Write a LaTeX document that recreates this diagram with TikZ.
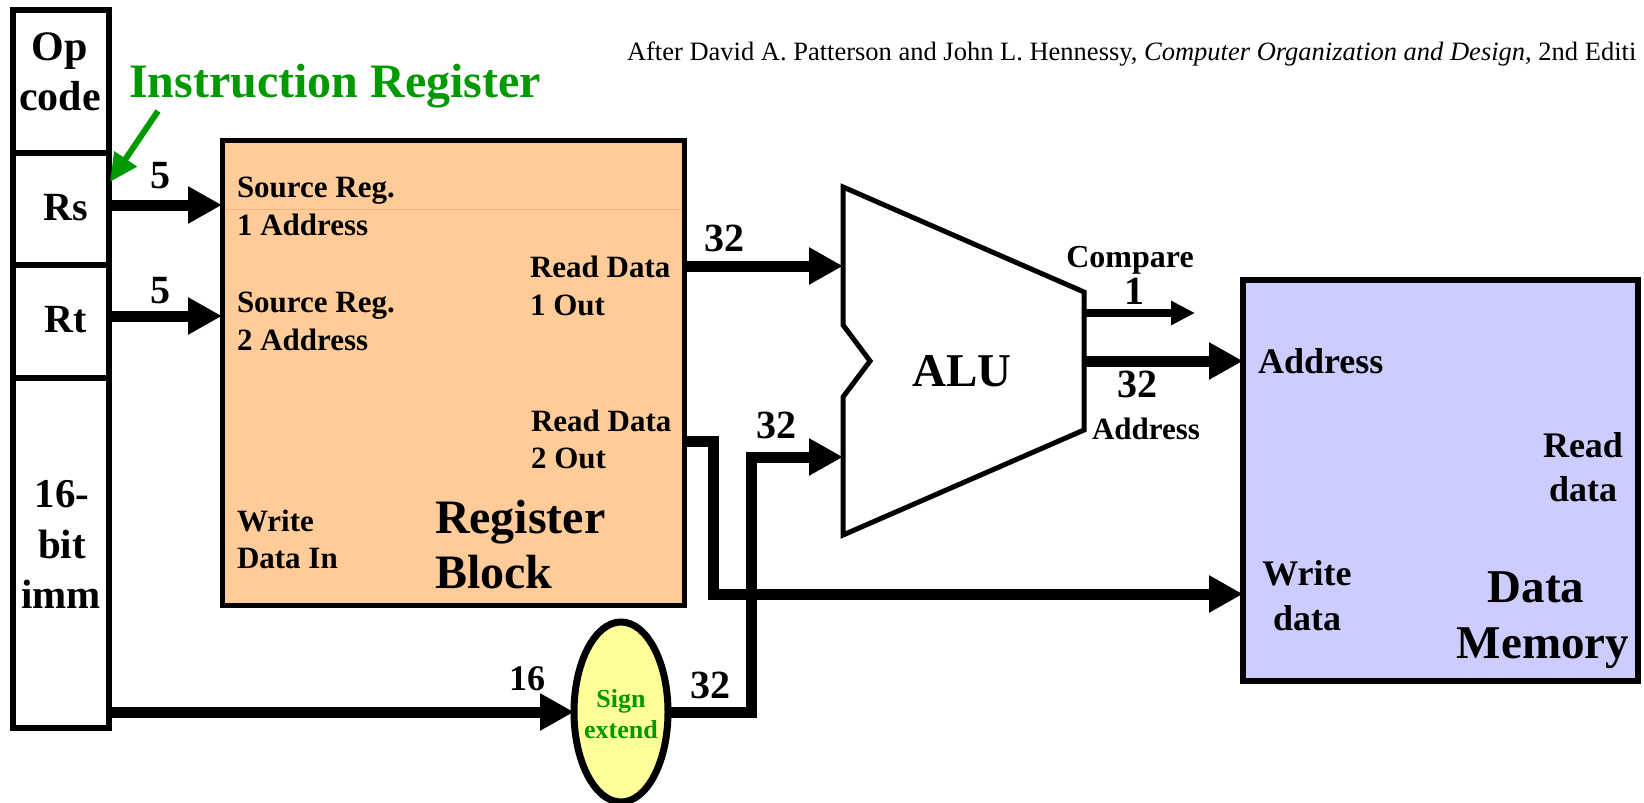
\documentclass[tikz,border=0pt]{standalone}
\usepackage{fontspec}
\setmainfont{Liberation Serif}
\usetikzlibrary{arrows.meta,shapes.geometric}
\definecolor{regfill}{RGB}{255,204,153}
\definecolor{memfill}{RGB}{204,204,255}
\definecolor{sefill}{RGB}{255,255,153}
\definecolor{irgreen}{RGB}{0,153,0}
\definecolor{faintline}{RGB}{242,178,120}
\newcommand{\bfsz}[1]{\fontsize{#1}{#1}\selectfont\bfseries}
\begin{document}
\begin{tikzpicture}[x=1pt,y=-1pt,line join=miter,
  txt/.style={inner sep=0pt,outer sep=0pt,anchor=base},
  txtl/.style={inner sep=0pt,outer sep=0pt,anchor=base west},
  cell/.style={draw,line width=6pt,minimum width=96pt,inner sep=0pt,outer sep=0pt},
  bus/.style={line width=11pt,-{Triangle[length=34pt,width=35pt]}},
  thinbus/.style={line width=8pt,-{Triangle[length=24pt,width=23pt]}},
  greenarrow/.style={irgreen,line width=6pt,-{Triangle[length=28pt,width=26pt]}}
]
\useasboundingbox (0,0) rectangle (1644,803);
\clip (0,0) rectangle (1644,803);

% Instruction register cells
\node[cell,minimum height=143pt] (op) at (61,81) {};
\node[cell,minimum height=112pt] (rs) at (61,208.5) {};
\node[cell,minimum height=113pt] (rt) at (61,321) {};
\node[cell,minimum height=350.5pt] (imm) at (61,552.75) {};

\node[txt,font=\bfsz{42}] (tOp) at (60,60) {Op};
\node[txt,font=\bfsz{42}] (tCode) at (60,110) {code};
\node[txt,font=\bfsz{40}] (tRs) at (66,220) {Rs};
\node[txt,font=\bfsz{40}] (tRt) at (66,332) {Rt};
\node[txt,font=\bfsz{41}] (t16) at (62,507) {16-};
\node[txt,font=\bfsz{41}] (tBit) at (62,558) {bit};
\node[txt,font=\bfsz{41}] (tImm) at (61,608) {imm};

% citation and title
\node[txtl,font=\fontsize{26.5}{26.5}\selectfont] (cite) at (627,60)
  {After David A. Patterson and John L. Hennessy, \textit{Computer Organization and Design}, 2nd Editi};
\node[txtl,text=irgreen,font=\bfsz{48}] (irtitle) at (129,97) {Instruction Register};
\coordinate (grStart) at (158,111);
\coordinate (grEnd) at (110,182);
\draw[greenarrow] (grStart) -- (grEnd);

% Register block
\node[draw,line width=5pt,fill=regfill,minimum width=462pt,minimum height=465pt,inner sep=0pt,outer sep=0pt] (reg) at (453,372.5) {};
\draw[faintline,line width=1pt] (225,209) -- (682,209);
\node[txtl,font=\bfsz{31}] (sr1) at (237,197) {Source Reg.};
\node[txtl,font=\bfsz{31}] (sr1b) at (237,235) {1 Address};
\node[txtl,font=\bfsz{31}] (sr2) at (237,312) {Source Reg.};
\node[txtl,font=\bfsz{31}] (sr2b) at (237,350) {2 Address};
\node[txtl,font=\bfsz{31}] (rd1a) at (530,277) {Read Data};
\node[txtl,font=\bfsz{31}] (rd1b) at (530,315) {1 Out};
\node[txtl,font=\bfsz{31}] (rd2a) at (531,431) {Read Data};
\node[txtl,font=\bfsz{31}] (rd2b) at (531,468) {2 Out};
\node[txtl,font=\bfsz{31}] (wd1) at (237,531) {Write};
\node[txtl,font=\bfsz{31}] (wd2) at (237,568) {Data In};
\node[txtl,font=\bfsz{48}] (rb1) at (435,533) {Register};
\node[txtl,font=\bfsz{48}] (rb2) at (435,588) {Block};

% ALU
\draw[line width=5pt] (843,187) -- (1084,292) -- (1084,430) -- (843,535) -- (843,397) -- (870,361) -- (843,325) -- cycle;
\node[txt,font=\bfsz{47}] (alu) at (962,386) {ALU};
\coordinate (aluA) at (843,266);
\coordinate (aluB) at (843,457);
\coordinate (aluCmp) at (1084,313);
\coordinate (aluRes) at (1084,361);
\coordinate (cmpEnd) at (1195,313);

% Data memory
\node[draw,line width=6pt,fill=memfill,minimum width=395pt,minimum height=401pt,inner sep=0pt,outer sep=0pt] (dm) at (1440.5,480.5) {};
\node[txtl,font=\bfsz{36}] (dmAddr) at (1258,373) {Address};
\node[txt,font=\bfsz{36}] (dmR1) at (1583,457) {Read};
\node[txt,font=\bfsz{36}] (dmR2) at (1583,501) {data};
\node[txt,font=\bfsz{36}] (dmW1) at (1307,585) {Write};
\node[txt,font=\bfsz{36}] (dmW2) at (1307,630) {data};
\node[txt,font=\bfsz{47}] (dmT1) at (1536,602) {Data};
\node[txt,font=\bfsz{47}] (dmT2) at (1543,658) {Memory};

% Sign extend
\node[ellipse,draw,line width=7pt,fill=sefill,minimum width=94pt,minimum height=180pt,inner sep=0pt,outer sep=0pt] (se) at (621,712) {};
\node[txt,text=irgreen,font=\bfsz{26}] (se1) at (621,707) {Sign};
\node[txt,text=irgreen,font=\bfsz{26}] (se2) at (621,738) {extend};

% ports
\coordinate (rsOut) at ([yshift=3.5pt]rs.east);
\coordinate (regIn1) at (reg.west |- rsOut);
\coordinate (rtOut) at ([yshift=5pt]rt.east);
\coordinate (regIn2) at (reg.west |- rtOut);
\coordinate (rd1) at (reg.east |- aluA);
\coordinate (rd2) at (684,441);
\coordinate (rd2turn) at (713,441);
\coordinate (dmWD) at (1243,594);
\coordinate (immOut) at (imm.east |- se.west);
\coordinate (seTurn) at (751,712);

% connectors
\draw[bus] (rsOut) -- (regIn1);
\draw[bus] (rtOut) -- (regIn2);
\draw[bus] (rd1) -- (aluA);
\draw[bus] (rd2) -- (rd2turn) |- (dmWD);
\draw[bus] (immOut) -- (se.west);
\draw[bus] (se.east) -- (seTurn) |- (aluB);
\draw[thinbus] (aluCmp) -- (cmpEnd);
\draw[bus] (aluRes) -- (aluRes -| dm.west);

% bus width labels
\node[txt,font=\bfsz{40}] (l5a) at (160,188) {5};
\node[txt,font=\bfsz{40}] (l5b) at (160,303) {5};
\node[txt,font=\bfsz{40}] (l32a) at (724,251) {32};
\node[txt,font=\bfsz{40}] (l32b) at (776,438) {32};
\node[txt,font=\bfsz{40}] (l32c) at (710,698) {32};
\node[txt,font=\bfsz{36}] (l16) at (527,690) {16};
\node[txt,font=\bfsz{32}] (lcmp) at (1130,267) {Compare};
\node[txt,font=\bfsz{40}] (l1) at (1134,304) {1};
\node[txt,font=\bfsz{40}] (l32d) at (1137,397) {32};
\node[txt,font=\bfsz{31}] (laddr) at (1146,439) {Address};
\end{tikzpicture}
\end{document}
